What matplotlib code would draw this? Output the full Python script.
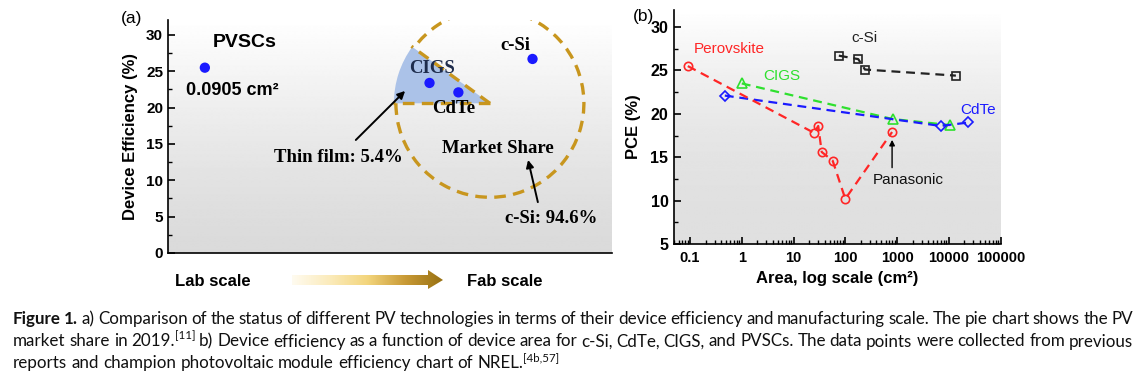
import matplotlib
matplotlib.use('Agg')
import matplotlib.pyplot as plt
import numpy as np
from matplotlib import transforms as mtransforms
from matplotlib.colors import LinearSegmentedColormap
from matplotlib.patches import Arc, Polygon, Wedge
from matplotlib.ticker import FixedLocator, LogLocator, MultipleLocator, NullFormatter

plt.rcParams['font.family'] = ['Liberation Sans', 'DejaVu Sans']

W, H = 1140, 375

# ---- (a) champion efficiency vs. manufacturing scale
a_names = ["PVSCs", "CIGS", "CdTe", "c-Si"]
a_scale = [0.083, 0.589, 0.654, 0.821]   # position along lab -> fab
a_eff = [25.5, 23.4, 22.1, 26.7]
a_yticks = [0, 5, 10, 15, 20, 25, 30]
market_names = ["c-Si", "Thin film"]
market_share = [94.6, 5.4]

# ---- (b) PCE vs. device area
pero_area = [0.0905, 25, 30, 35, 57, 100, 802]
pero_pce = [25.5, 17.8, 18.6, 15.6, 14.6, 10.2, 17.9]
cigs_area = [1.0, 820, 10600]
cigs_pce = [23.5, 19.4, 18.7]
cdte_area = [0.47, 7000, 24000]
cdte_pce = [22.1, 18.6, 19.0]
csi_area = [75, 178, 240, 13700]
csi_pce = [26.7, 26.3, 25.1, 24.4]
b_xticks = [0.1, 1, 10, 100, 1000, 10000, 100000]
b_xticklabels = ["0.1", "1", "10", "100", "1000", "10000", "100000"]
b_yticks = [5, 10, 15, 20, 25, 30]

caption = [
	"*Figure *1. a) Comparison of the status of different PV technologies in terms of their device efficiency and manufacturing scale. The pie chart shows the PV",
	"market share in 2019.^[11] b) Device efficiency as a function of device area for c-Si, CdTe, CIGS, and PVSCs. The data points were collected from previous",
	"reports and champion photovoltaic module efficiency chart of NREL.^[4b,57]",
]

RED, GREEN, BLUE, GOLD = "#ff2626", "#2ee02e", "#1a1aff", "#c8961e"

fig = plt.figure(figsize=(11.4, 3.75), dpi=100)


def box(l, t, r, b):
	return [l / W, 1 - b / H, (r - l) / W, (b - t) / H]


def shade(rect, lo, gamma):
	bg = fig.add_axes(rect, zorder=0)
	t = np.linspace(0, 1, 256)[:, None]
	bg.imshow(lo + (1 - lo) * t ** gamma, cmap="gray", vmin=0, vmax=1, origin="lower",
		aspect="auto", extent=[0, 1, 0, 1], interpolation="bilinear")
	bg.axis("off")


# ================= panel (a)
rect_a = box(168, 20, 612, 253)
shade(rect_a, 0.855, 1.3)
ax_a = fig.add_axes(rect_a, zorder=1)
ax_a.patch.set_alpha(0)
ax_a.set_xlim(0, 1)
ax_a.set_ylim(0, 32.06)
for s in ["top", "right"]:
	ax_a.spines[s].set_visible(False)
for s in ["left", "bottom"]:
	ax_a.spines[s].set_linewidth(1.2)
ax_a.set_xticks([])
ax_a.set_yticks(a_yticks)
ax_a.set_yticklabels([str(v) for v in a_yticks], fontweight="bold")
ax_a.yaxis.set_minor_locator(MultipleLocator(2.5))
ax_a.tick_params(axis="y", which="major", direction="in", length=5, width=1.2, labelsize=11, pad=3.5)
ax_a.tick_params(axis="y", which="minor", direction="in", length=3, width=1.0)
ax_a.set_ylabel("Device Efficiency (%)", fontsize=12, fontweight="bold", labelpad=6)

# market share pie, drawn in inches around its centre so it stays round
pie_x, pie_y, r = 0.725, 20.6, 0.94
trans = fig.dpi_scale_trans + mtransforms.ScaledTranslation(pie_x, pie_y, ax_a.transData)
edge = 144  # drawn edge of the thin film slice (deg)
ax_a.add_patch(Wedge((0, 0), 0.96, edge, 180, transform=trans, facecolor="#abc2e8",
	edgecolor="none", zorder=1))
dash = (0, (3.5, 2.2))
ax_a.add_patch(Arc((0, 0), 2 * r, 2 * r, theta1=180, theta2=edge + 360, transform=trans,
	color=GOLD, lw=2.4, linestyle=dash, zorder=2))
ax_a.plot([0, -0.97], [0, 0], transform=trans, color=GOLD, lw=2.4, linestyle=dash, zorder=2)
ang = np.deg2rad(edge)
ax_a.plot([0, 0.97 * np.cos(ang)], [0, 0.97 * np.sin(ang)], transform=trans, color=GOLD,
	lw=2.4, linestyle=dash, zorder=2)

ax_a.scatter(a_scale, a_eff, s=55, color=BLUE, zorder=4, edgecolors="none")

ax_a.text(0.173, 29.0, "PVSCs", fontsize=14, fontweight="bold", ha="center", va="center")
ax_a.text(0.144, 22.4, "0.0905 cm²", fontsize=13, fontweight="bold", ha="center", va="center")
serif = dict(family=["Liberation Serif", "DejaVu Serif"], fontweight="bold", fontsize=13.5,
	ha="center", va="center")
ax_a.text(0.594, 25.4, a_names[1], color="#1e2c4c", **serif)
ax_a.text(0.644, 19.9, a_names[2], **serif)
ax_a.text(0.7815, 28.6, a_names[3], **serif)
ax_a.text(0.744, 14.4, "Market Share", **serif)
ax_a.text(0.383, 13.1, "%s: %.1f%%" % (market_names[1], market_share[1]), **serif)
ax_a.text(0.864, 4.7, "%s: %.1f%%" % (market_names[0], market_share[0]), **serif)
arrow = dict(arrowstyle="-|>", color="black", lw=1.4, mutation_scale=11, shrinkA=0, shrinkB=0)
ax_a.annotate("", xy=(0.534, 22.3), xytext=(0.423, 15.55), arrowprops=arrow)
ax_a.annotate("", xy=(0.811, 12.8), xytext=(0.833, 7.0), arrowprops=arrow)

fig.text(132 / W, 1 - 18 / H, "(a)", fontsize=12.5, ha="center", va="center")
fig.text(213 / W, 1 - 281 / H, "Lab scale", fontsize=12, fontweight="bold", ha="center", va="center")
fig.text(505 / W, 1 - 281 / H, "Fab scale", fontsize=12, fontweight="bold", ha="center", va="center")

# gradient arrow lab -> fab
ax_arr = fig.add_axes(box(288, 266, 448, 294))
arrow_cmap = LinearSegmentedColormap.from_list("gold", ["#fffbf0", "#fbebbb", "#f3d57c", "#c99a36", "#987112"])
img = ax_arr.imshow(np.linspace(0, 1, 256)[None, :], cmap=arrow_cmap, extent=[292, 443, 290, 269],
	aspect="auto", interpolation="bilinear")
shape = Polygon([(292, 275), (428, 275), (428, 270), (443, 280), (428, 289), (428, 285), (292, 285)],
	closed=True, facecolor="none", edgecolor="none")
ax_arr.add_patch(shape)
img.set_clip_path(shape)
ax_arr.set_xlim(288, 448)
ax_arr.set_ylim(294, 266)
ax_arr.axis("off")

# ================= panel (b)
rect_b = box(674, 10, 1001, 244)
shade(rect_b, 0.875, 2.0)
ax_b = fig.add_axes(rect_b, zorder=1)
ax_b.patch.set_alpha(0)
ax_b.set_xscale("log")
for s in ["top", "right"]:
	ax_b.spines[s].set_visible(False)
for s in ["left", "bottom"]:
	ax_b.spines[s].set_linewidth(1.2)

line = dict(linestyle=(0, (4, 2.6)), lw=1.6, mfc="none", mew=1.2, zorder=3)
ax_b.plot(csi_area, csi_pce, color="#222222", marker="s", ms=5.5, **line)
ax_b.plot(cigs_area, cigs_pce, color=GREEN, marker="^", ms=7, **line)
ax_b.plot(cdte_area, cdte_pce, color=BLUE, marker="D", ms=5.5, **line)
ax_b.plot(pero_area, pero_pce, color=RED, marker="o", ms=6, **line)

ax_b.set_xlim(0.049, 1.02e5)
ax_b.set_ylim(5, 31.96)
ax_b.xaxis.set_major_locator(FixedLocator(b_xticks))
ax_b.set_xticklabels(b_xticklabels, fontweight="bold")
ax_b.xaxis.set_minor_locator(LogLocator(base=10, subs=np.arange(2, 10), numticks=20))
ax_b.xaxis.set_minor_formatter(NullFormatter())
ax_b.set_yticks(b_yticks)
ax_b.set_yticklabels([str(v) for v in b_yticks], fontweight="bold")
ax_b.yaxis.set_minor_locator(MultipleLocator(2.5))
ax_b.tick_params(axis="x", which="major", direction="in", length=5, width=1.2, labelsize=10.5, pad=5)
ax_b.tick_params(axis="y", which="major", direction="in", length=5, width=1.2, labelsize=11.5, pad=4)
ax_b.tick_params(which="minor", direction="in", length=3, width=1.0)
ax_b.set_xlabel("Area, log scale (cm²)", fontsize=12, fontweight="bold", labelpad=4)
ax_b.set_ylabel("PCE (%)", fontsize=12, fontweight="bold", labelpad=7)

ax_b.text(0.56, 27.45, "Perovskite", color=RED, fontsize=11, ha="center", va="center")
ax_b.text(5.9, 24.35, "CIGS", color=GREEN, fontsize=11, ha="center", va="center")
ax_b.text(230, 28.7, "c-Si", color="#222222", fontsize=11, ha="center", va="center")
ax_b.text(36000, 20.4, "CdTe", color=BLUE, fontsize=11, ha="center", va="center")
ax_b.text(1630, 12.4, "Panasonic", color="#111111", fontsize=11, ha="center", va="center")
ax_b.annotate("", xy=(pero_area[-1], 17.0), xytext=(pero_area[-1], 13.8),
	arrowprops=dict(arrowstyle="-|>", color="black", lw=1.0, mutation_scale=8, shrinkA=0, shrinkB=0))

fig.text(644 / W, 1 - 17 / H, "(b)", fontsize=12.5, ha="center", va="center")

# ================= caption (justified lines)
cap_font = ["Lato", "DejaVu Sans"]
renderer = fig.canvas.get_renderer()


def text_width(s, size, weight="normal"):
	t = fig.text(0, 0, s, fontsize=size, fontweight=weight, family=cap_font)
	w = t.get_window_extent(renderer).width
	t.remove()
	return w


def parse(tok):
	bold = tok.startswith("*")
	main, _, sup = tok.lstrip("*").partition("^")
	return main, sup, "bold" if bold else "normal"


def word_width(tok, size):
	main, sup, weight = parse(tok)
	w = text_width(main, size, weight)
	if sup:
		w += text_width(sup, size * 0.68)
	return w


base = 10.0
space = text_width("a a", base) - 2 * text_width("a", base)
last = caption[-1].split()
natural = sum(word_width(t, base) for t in last) + space * (len(last) - 1)
cap_size = base * (560 - 13) / natural
space *= cap_size / base

x_left, x_right = 13, 1133
baselines = [324, 346.5, 368]
for i, row in enumerate(caption):
	toks = row.split()
	widths = [word_width(t, cap_size) for t in toks]
	if i < len(caption) - 1:
		gap = (x_right - x_left - sum(widths)) / (len(toks) - 1)
	else:
		gap = space
	x = x_left
	for tok, w in zip(toks, widths):
		main, sup, weight = parse(tok)
		fig.text(x / W, 1 - baselines[i] / H, main, fontsize=cap_size, fontweight=weight,
			family=cap_font, va="baseline", ha="left", color="#111111")
		if sup:
			xs = x + text_width(main, cap_size, weight)
			fig.text(xs / W, 1 - (baselines[i] - 0.42 * cap_size * 100 / 72) / H, sup,
				fontsize=cap_size * 0.68, family=cap_font, va="baseline", ha="left", color="#111111")
		x += w + gap

fig.savefig("out.png", dpi=100)
